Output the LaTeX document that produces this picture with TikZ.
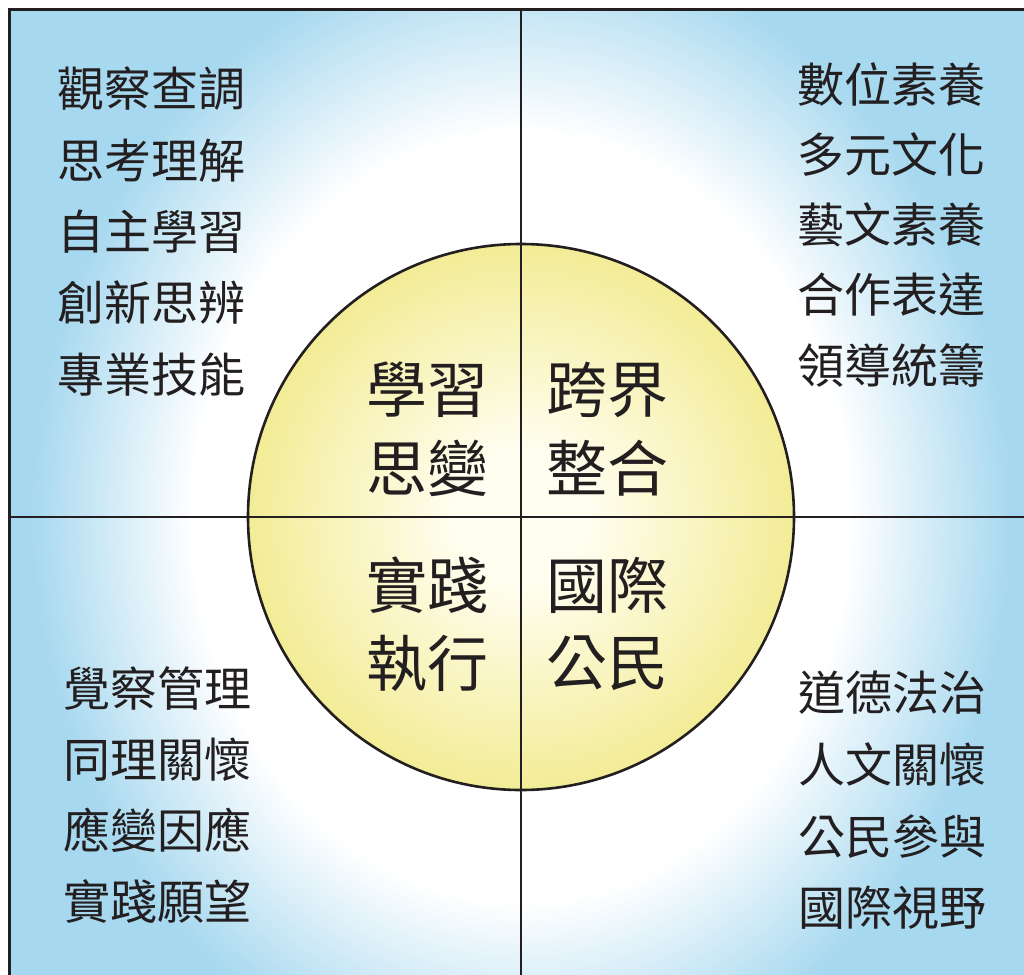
\documentclass[tikz,border=0pt]{standalone}
\usepackage{fontspec}
\newfontfamily\cjk{Noto Sans CJK TC}
\definecolor{skyb}{RGB}{166,216,239}
\definecolor{circy}{RGB}{243,236,150}
\definecolor{circc}{RGB}{255,254,240}
\definecolor{ink}{RGB}{35,31,32}
\pgfdeclareradialshading{bgshade}{\pgfpoint{0bp}{0bp}}{color(0bp)=(white); color(16bp)=(white); color(24bp)=(skyb); color(50bp)=(skyb)}
\pgfdeclareradialshading{circshade}{\pgfpoint{0bp}{0bp}}{color(0bp)=(circc); color(6bp)=(circc); color(25bp)=(circy); color(50bp)=(circy)}
\begin{document}
\begin{tikzpicture}[x=1pt,y=-1pt,
  list/.style={font=\cjk\fontsize{47}{47}\selectfont, text=ink, inner sep=0pt, anchor=center},
  core/.style={font=\cjk\fontsize{61}{61}\selectfont, text=ink, inner sep=0pt, anchor=center},
  rule/.style={line width=2.6pt, draw=ink},
  frame/.style={line width=3pt, draw=ink, line join=miter}]
\useasboundingbox (0,0) rectangle (1024,974);
% background gradient
\begin{scope}
  \clip (9,9) rectangle (1024,974);
  \shade[shading=bgshade] (9,-83) rectangle (1033,1117);
\end{scope}
% central circle
\node[circle, minimum size=546pt, inner sep=0pt, shading=circshade, draw=ink, line width=2.6pt] (hub) at (521,517) {};
% frame and cross
\coordinate (ftl) at (9.5,9.5);
\coordinate (fbl) at (9.5,980);
\coordinate (ftr) at (1030,9.5);
\draw[frame] (fbl) -- (ftl) -- (ftr);
\coordinate (vt) at (521,9.5);
\coordinate (vb) at (521,980);
\coordinate (hl) at (9.5,517);
\coordinate (hr) at (1030,517);
\draw[rule] (vt) -- (vb);
\draw[rule] (hl) -- (hr);
% lists
\foreach \t [count=\i] in {觀察查調,思考理解,自主學習,創新思辨,專業技能}
  \node[list] (tl\i) at (151, 89+71.3*\i-71.3) {\t};
\foreach \t [count=\i] in {數位素養,多元文化,藝文素養,合作表達,領導統籌}
  \node[list] (tr\i) at (891.5, 85+70*\i-70) {\t};
\foreach \t [count=\i] in {覺察管理,同理關懷,應變因應,實踐願望}
  \node[list] (bl\i) at (157.5, 688+71.3*\i-71.3) {\t};
\foreach \t [count=\i] in {道德法治,人文關懷,公民參與,國際視野}
  \node[list] (br\i) at (892.5, 693+71.7*\i-71.7) {\t};
% core texts
\node[core] (c1a) at (427.5,390) {學習};
\node[core] (c1b) at (427.5,468) {思變};
\node[core] (c2a) at (607.5,390) {跨界};
\node[core] (c2b) at (607.5,468) {整合};
\node[core] (c3a) at (427.5,585) {實踐};
\node[core] (c3b) at (427.5,663) {執行};
\node[core] (c4a) at (607.5,585) {國際};
\node[core] (c4b) at (607.5,663) {公民};
\end{tikzpicture}
\end{document}
